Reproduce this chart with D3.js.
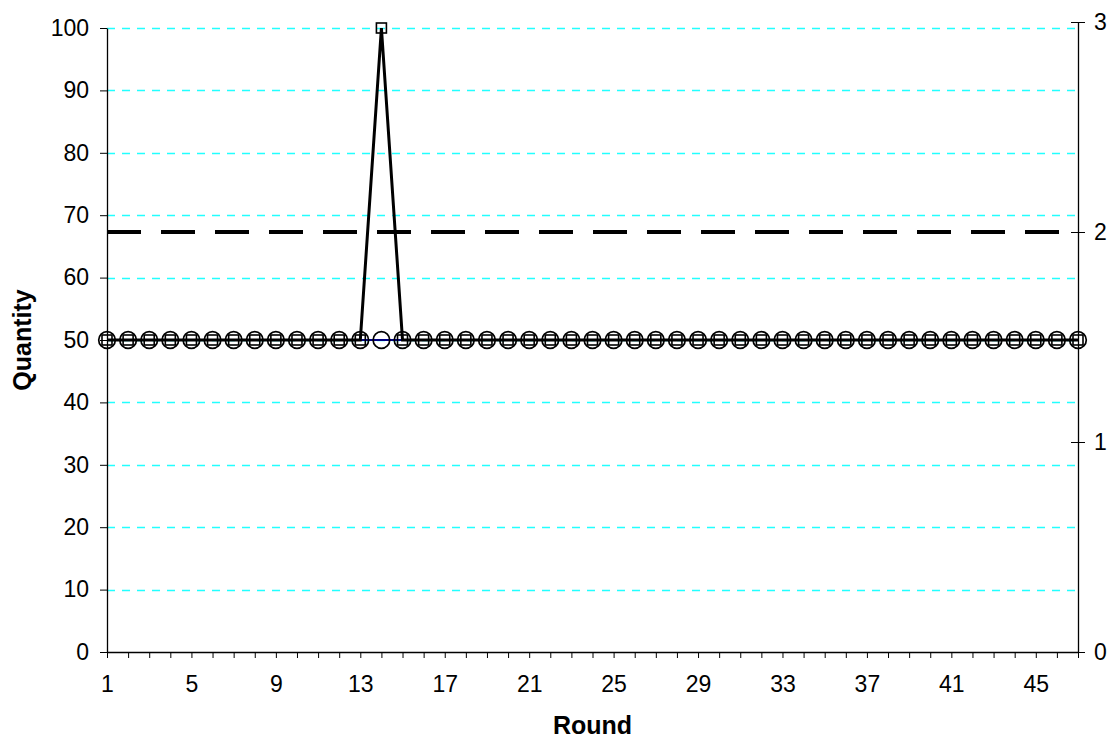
<!DOCTYPE html>
<html><head><meta charset="utf-8">
<script src="https://cdn.jsdelivr.net/npm/d3@7"></script>
<style>
html,body{margin:0;padding:0;background:#fff;}
svg{display:block;font-family:"Liberation Sans",Arial,sans-serif;}
</style></head><body>
<svg id="chart" width="1120" height="746"></svg>
<script>
// ---- data ----
const rounds = d3.range(1, 48);               // categories 1..47
const quantity = [50,50,50,50,50,50,50,50,50,50,50,50,50,100,50,50,50,50,50,50,50,50,50,50,50,50,50,50,50,50,50,50,50,50,50,50,50,50,50,50,50,50,50,50,50,50,50];
const baseline = [50,50,50,50,50,50,50,50,50,50,50,50,50,50,50,50,50,50,50,50,50,50,50,50,50,50,50,50,50,50,50,50,50,50,50,50,50,50,50,50,50,50,50,50,50,50,50];
const secondaryLevel = [2,2,2,2,2,2,2,2,2,2,2,2,2,2,2,2,2,2,2,2,2,2,2,2,2,2,2,2,2,2,2,2,2,2,2,2,2,2,2,2,2,2,2,2,2,2,2];
const leftTicks = [0,10,20,30,40,50,60,70,80,90,100];
const rightTicks = [0,1,2,3];
const xLabelEvery = 4;

// ---- layout ----
const svg = d3.select("#chart");
const L = 107, R = 1078, T = 28, B = 652, TR = 22;
const x = d3.scaleLinear().domain([1, 47]).range([L, R]);
const y = d3.scaleLinear().domain([0, 100]).range([B, T]);
const y2 = d3.scaleLinear().domain([0, 3]).range([B, TR]);
const fs = 23;
const ff = '"Liberation Sans",Arial,sans-serif';

// gridlines
svg.append("g").selectAll("line").data(leftTicks.filter(d => d > 0)).join("line")
  .attr("x1", L).attr("x2", R)
  .attr("y1", d => Math.round(y(d)) + 0.5).attr("y2", d => Math.round(y(d)) + 0.5)
  .attr("stroke", "#22ffff").attr("stroke-width", 1.3).attr("stroke-dasharray", "8,7");

// left axis
const gl = svg.append("g").attr("transform", `translate(${L},0)`)
  .call(d3.axisLeft(y).tickValues(leftTicks).tickSize(7).tickSizeOuter(0).tickPadding(11));
// bottom axis
const gb = svg.append("g").attr("transform", `translate(0,${B})`)
  .call(d3.axisBottom(x).tickValues(rounds).tickSize(6).tickSizeOuter(0).tickPadding(18)
    .tickFormat(d => ((d - 1) % xLabelEvery === 0 ? d : "")));
// right axis (ticks crossing)
const gr = svg.append("g").attr("transform", `translate(${R},0)`)
  .call(d3.axisRight(y2).tickValues(rightTicks).tickSize(7).tickSizeOuter(0).tickPadding(9).tickFormat(d3.format("d")));
const gr2 = svg.append("g").attr("transform", `translate(${R},0)`)
  .call(d3.axisLeft(y2).tickValues(rightTicks).tickSize(7).tickSizeOuter(0).tickFormat(""));
gr2.select(".domain").remove();

[gl, gb, gr, gr2].forEach(g => {
  g.selectAll("text").attr("font-size", fs).attr("font-family", ff).attr("fill", "#000");
  g.selectAll("line").attr("stroke", "#000").attr("stroke-width", 1);
  g.select(".domain").attr("stroke", "#000").attr("stroke-width", 1.3);
});

// series: baseline (navy line + circles)
const line = d3.line().x((d, i) => x(rounds[i])).y(d => y(d));
svg.append("path").datum(baseline).attr("d", line)
  .attr("fill", "none").attr("stroke", "#000080").attr("stroke-width", 2);

// series: quantity (black line)
svg.append("path").datum(quantity).attr("d", line)
  .attr("fill", "none").attr("stroke", "#000").attr("stroke-width", 3).attr("stroke-linejoin", "miter");

// dashed secondary series
const line2 = d3.line().x((d, i) => x(rounds[i])).y(d => y2(d));
svg.append("path").datum(secondaryLevel).attr("d", line2)
  .attr("fill", "none").attr("stroke", "#000").attr("stroke-width", 4).attr("stroke-dasharray", "34,20");

// square markers
const sq = 10;
svg.append("g").selectAll("rect").data(quantity).join("rect")
  .attr("x", (d, i) => x(rounds[i]) - sq / 2).attr("y", d => y(d) - sq / 2)
  .attr("width", sq).attr("height", sq)
  .attr("fill", "none").attr("stroke", "#000").attr("stroke-width", 1.6);

// circle markers
svg.append("g").selectAll("circle").data(baseline).join("circle")
  .attr("cx", (d, i) => x(rounds[i])).attr("cy", d => y(d)).attr("r", 8.3)
  .attr("fill", "none").attr("stroke", "#000").attr("stroke-width", 1.7);

// axis titles
svg.append("text").attr("x", (L + R) / 2).attr("y", 734).attr("text-anchor", "middle")
  .attr("font-size", 25).attr("font-weight", "bold").attr("font-family", ff).text("Round");
svg.append("text").attr("transform", `translate(31,${(T + B) / 2}) rotate(-90)`).attr("text-anchor", "middle")
  .attr("font-size", 25).attr("font-weight", "bold").attr("font-family", ff).text("Quantity");
</script>
</body></html>
